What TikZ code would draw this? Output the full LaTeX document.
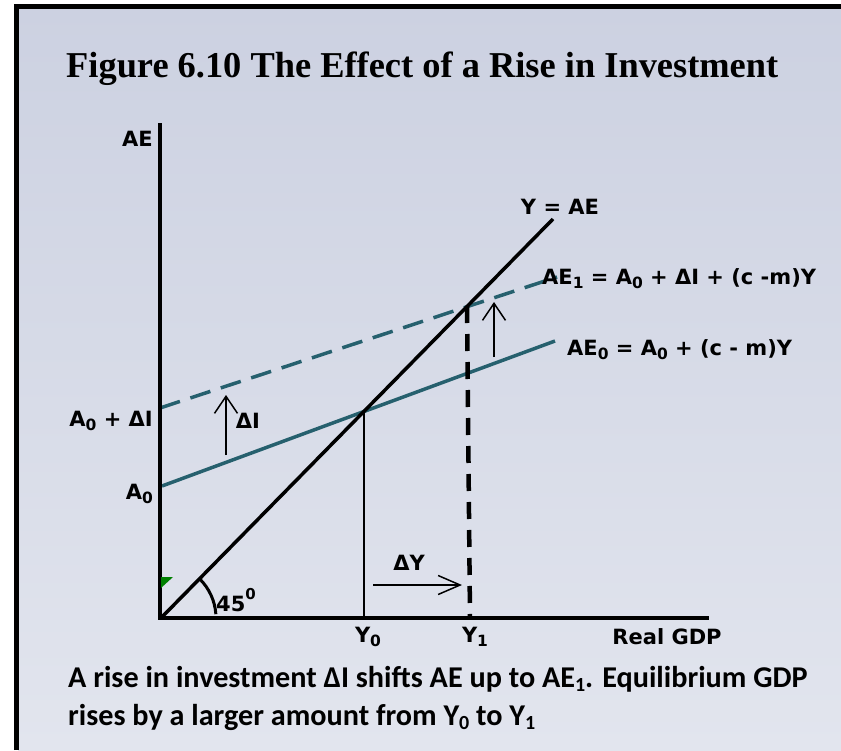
\documentclass[tikz,border=0pt]{standalone}
\usepackage{fontspec}
\setmainfont{Liberation Serif}
\newfontfamily\labfont{DejaVu Sans}
\newfontfamily\captfont{Carlito}
\usetikzlibrary{arrows.meta}
\definecolor{bgtop}{RGB}{204,209,225}
\definecolor{bgbot}{RGB}{226,229,238}
\definecolor{tealline}{RGB}{38,96,110}
\definecolor{mkgreen}{RGB}{0,128,0}
\newcommand\lowsub[1]{\raisebox{-0.35ex}{\fontsize{15.5}{15.5}\selectfont #1}}
\newcommand\capsub[1]{\raisebox{-0.3ex}{\fontsize{20}{20}\selectfont #1}}
\begin{document}
\begin{tikzpicture}[x=1pt,y=-1pt,
  lab/.style={font=\labfont\bfseries\fontsize{21}{24}\selectfont, inner sep=0pt},
  capt/.style={font=\captfont\bfseries\fontsize{30.2}{32}\selectfont, inner sep=0pt, anchor=base west},
  axisline/.style={line width=4pt},
  curveblack/.style={line width=3.5pt},
  curveteal/.style={line width=3.5pt, tealline},
  thinarrow/.style={line width=1.5pt, -{Straight Barb[length=17pt,width=23pt,line width=1.5pt]}},
  frameline/.style={line width=5pt}]
\useasboundingbox (0,0) rectangle (841,750);
% background and frame
\shade[top color=bgtop, bottom color=bgbot] (18,6) rectangle (841,750);
\draw[frameline] (16,750) -- (16,6) -- (841,6);
% coordinates
\coordinate (ytop) at (160,123);
\coordinate (ybot) at (160,620);
\coordinate (xstart) at (158,618);
\coordinate (xend) at (709,618);
\coordinate (O) at (161,618);
\coordinate (diagE) at (553,219);
\coordinate (ae0s) at (162,486);
\coordinate (ae0e) at (555,341);
\coordinate (ae1s) at (160,408);
\coordinate (ae1e) at (557,277);
\coordinate (E0) at (364,411);
\coordinate (E0b) at (364,618);
\coordinate (E1) at (467,306);
\coordinate (E1b) at (470,618);
\coordinate (dIs) at (226,455);
\coordinate (dIe) at (226,395);
\coordinate (rAs) at (494,357);
\coordinate (rAe) at (494,302);
\coordinate (dYs) at (373,585);
\coordinate (dYe) at (462,585);
% title
\node[anchor=base west, inner sep=0pt, font=\bfseries\fontsize{36.4}{40}\selectfont] (title) at (66,77) {Figure 6.10 The Effect of a Rise in Investment};
% curves
\draw[curveteal] (ae0s) -- (ae0e);
\draw[curveteal, dash pattern=on 21pt off 11pt] (ae1s) -- (ae1e);
\draw[curveblack] (O) -- (diagE);
\draw[line width=1.5pt] (E0) -- (E0b);
\draw[line width=4.5pt, dash pattern=on 17pt off 11pt] (E1) -- (E1b);
% axes
\draw[axisline] (ytop) -- (ybot);
\draw[axisline] (xstart) -- (xend);
% arrows
\draw[thinarrow] (dIs) -- (dIe);
\draw[thinarrow] (rAs) -- (rAe);
\draw[line width=1.5pt, -{Straight Barb[length=22pt,width=19pt,line width=1.5pt]}] (dYs) -- (dYe);
% angle
\draw[line width=3pt] (O) ++(-45:55) arc[start angle=-45, end angle=-4, radius=55];
\fill[mkgreen] (161,577) -- (173,577) -- (161,588) -- cycle;
% labels
\node[lab, anchor=east] (lAE) at (153,139) {AE};
\node[lab] (lYAE) at (560,207) {Y = AE};
\node[lab, anchor=west] (lAE1) at (542,279) {AE\lowsub{1} = A\lowsub{0} + ΔI + (c -m)Y};
\node[lab, anchor=west] (lAE0) at (567,350) {AE\lowsub{0} = A\lowsub{0} + (c - m)Y};
\node[lab, anchor=east] (lA0dI) at (153,421) {A\lowsub{0} + ΔI};
\node[lab, anchor=east] (lA0) at (153,494) {A\lowsub{0}};
\node[lab] (ldI) at (248,421) {ΔI};
\node[lab] (ldY) at (409,563) {ΔY};
\node[lab, anchor=west] (l45) at (216,600) {45\raisebox{1.1ex}{\fontsize{15}{15}\selectfont 0}};
\node[lab] (lY0) at (368,637) {Y\lowsub{0}};
\node[lab] (lY1) at (475,637) {Y\lowsub{1}};
\node[lab] (lGDP) at (667,637) {Real GDP};
% caption
\node[capt] (cap1) at (68,687) {A rise in investment ΔI shifts AE up to AE\capsub{1}. Equilibrium GDP};
\node[capt] (cap2) at (68,725) {rises by a larger amount from Y\capsub{0} to Y\capsub{1}};
\end{tikzpicture}
\end{document}
